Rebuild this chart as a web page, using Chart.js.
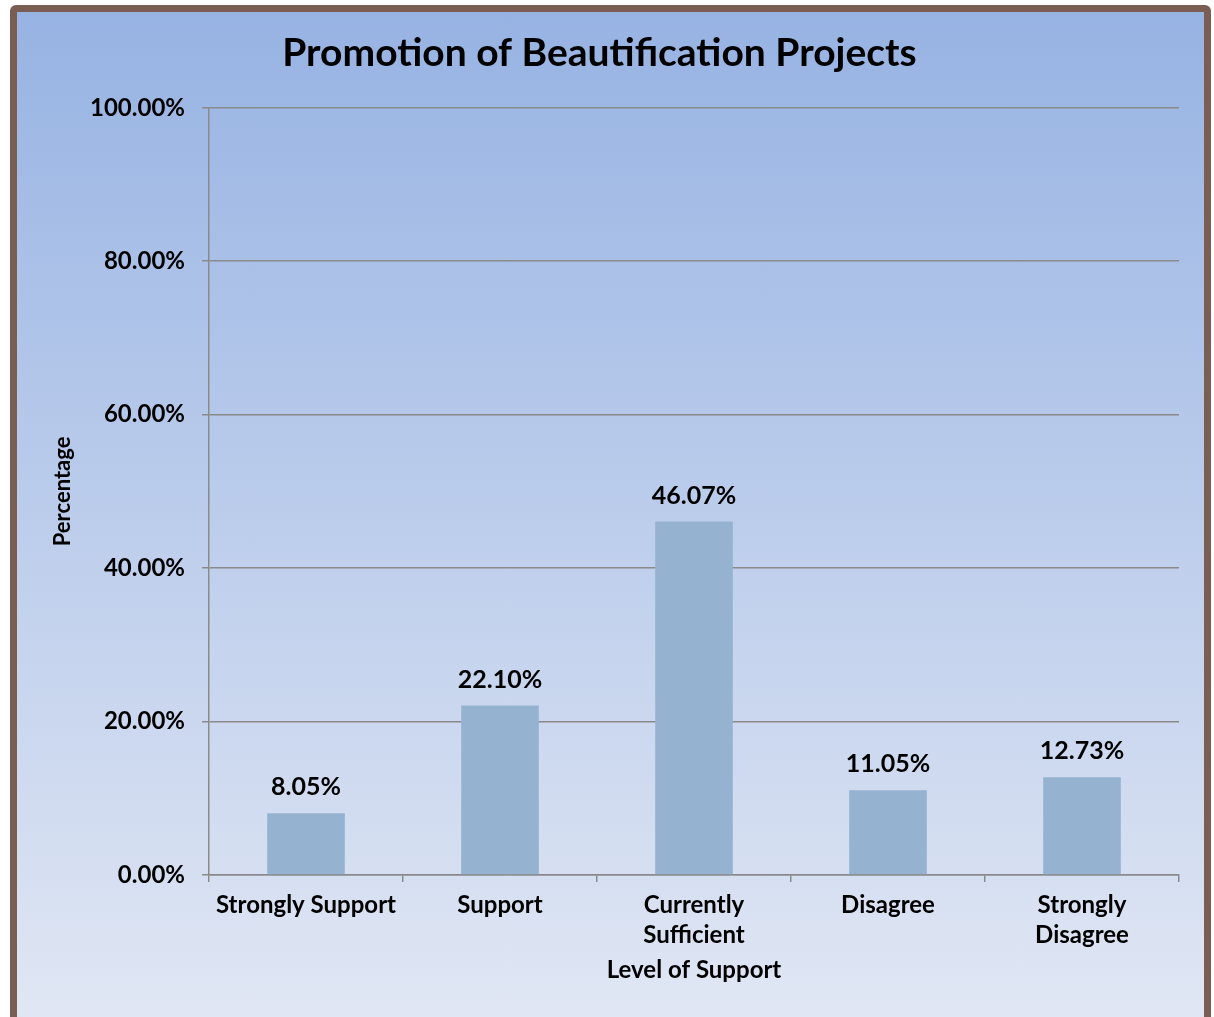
<!DOCTYPE html>
<html>
<head>
<meta charset="utf-8">
<script src="https://cdn.jsdelivr.net/npm/chart.js@4"></script>
<style>
  html, body { margin: 0; padding: 0; background: #ffffff; }
  body { width: 1214px; height: 1017px; position: relative; overflow: hidden; }
  #frame {
    position: absolute; left: 10px; top: 5px;
    width: 1187px; height: 1012px;
    border: 7px solid #7a5e54; border-radius: 6px;
    background: linear-gradient(#97b3e3, #e1e7f4);
  }
  #myChart { position: absolute; left: 0; top: 0; }
</style>
</head>
<body>
<div id="frame"></div>
<canvas id="myChart" width="1214" height="1017"></canvas>
<script>
const categories = [
  "Strongly Support",
  "Support",
  ["Currently", "Sufficient"],
  "Disagree",
  ["Strongly", "Disagree"],
];
const percentValues = [8.05, 22.1, 46.07, 11.05, 12.73];
const yTicks = [0, 20, 40, 60, 80, 100];

const barColor = "#95b3d1";
const gridColor = "#8a8a8a";
const fontName = "Lato, 'DejaVu Sans', sans-serif";

// value labels above each bar
const valueLabels = {
  id: "valueLabels",
  afterDatasetsDraw(chart) {
    const ctx = chart.ctx;
    const meta = chart.getDatasetMeta(0);
    ctx.save();
    ctx.font = "bold 25px " + fontName;
    ctx.fillStyle = "#000000";
    ctx.textAlign = "center";
    ctx.textBaseline = "middle";
    meta.data.forEach((bar, i) => {
      ctx.fillText(percentValues[i].toFixed(2) + "%", bar.x, bar.y - 26);
    });
    ctx.restore();
  },
};

const ctx = document.getElementById("myChart").getContext("2d");
const myChart = new Chart(ctx, {
  type: "bar",
  data: {
    labels: categories,
    datasets: [
      {
        label: "Percentage",
        data: percentValues,
        backgroundColor: barColor,
        borderWidth: 0,
        categoryPercentage: 1,
        barPercentage: 0.4,
      },
    ],
  },
  options: {
    responsive: false,
    animation: false,
    layout: { padding: { left: 20, right: 35, top: 0, bottom: 0 } },
    plugins: {
      legend: { display: false },
      tooltip: { enabled: false },
      title: {
        display: true,
        text: "Promotion of Beautification Projects",
        color: "#000000",
        font: { family: fontName, size: 39, weight: "bold", lineHeight: 1.2 },
        padding: { top: 30, bottom: 31 },
      },
    },
    scales: {
      x: {
        afterFit: (s) => { s.height = 142; },
        grid: {
          display: true,
          drawOnChartArea: false,
          offset: true,
          color: gridColor,
          lineWidth: 1.5,
          tickLength: 7,
        },
        border: { color: gridColor, width: 1.5 },
        ticks: {
          color: "#000000",
          font: { family: fontName, size: 24, weight: "bold", lineHeight: 1.22 },
          padding: 9,
          maxRotation: 0,
          autoSkip: false,
        },
        title: {
          display: true,
          text: "Level of Support",
          color: "#000000",
          font: { family: fontName, size: 24, weight: "bold", lineHeight: 1.2 },
          padding: { top: 0, bottom: 32 },
        },
      },
      y: {
        min: 0,
        max: 100,
        afterFit: (s) => { s.width = 189; },
        afterBuildTicks: (s) => { s.ticks = yTicks.map((v) => ({ value: v })); },
        grid: {
          color: gridColor,
          lineWidth: 1.5,
          tickLength: 7,
        },
        border: { color: gridColor, width: 1.5 },
        ticks: {
          color: "#000000",
          font: { family: fontName, size: 24, weight: "bold" },
          padding: 17,
          callback: (v) => v.toFixed(2) + "%",
        },
        title: {
          display: true,
          text: "Percentage",
          color: "#000000",
          font: { family: fontName, size: 22, weight: "bold", lineHeight: 1.2 },
          padding: { top: 30, bottom: 0 },
        },
      },
    },
  },
  plugins: [valueLabels],
});
</script>
</body>
</html>
